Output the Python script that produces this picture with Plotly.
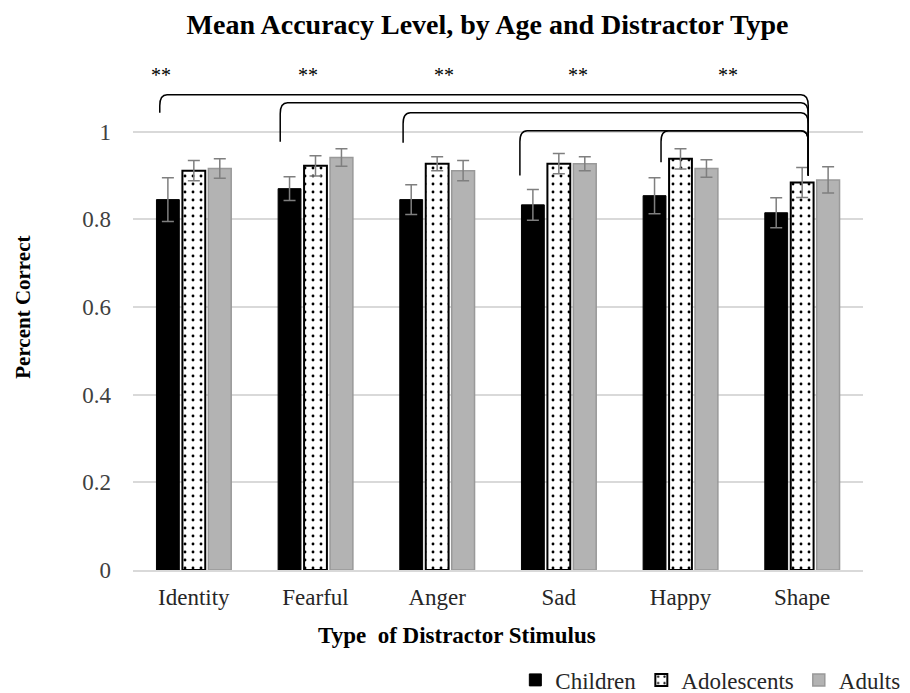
import plotly.graph_objects as go

# data
categories = ["Identity", "Fearful", "Anger", "Sad", "Happy", "Shape"]
children = [0.845, 0.870, 0.845, 0.833, 0.854, 0.815]
adolescents = [0.911, 0.922, 0.927, 0.927, 0.938, 0.884]
adults = [0.916, 0.941, 0.911, 0.927, 0.916, 0.890]
children_err = [0.050, 0.027, 0.034, 0.035, 0.041, 0.034]
adolescents_err = [0.023, 0.023, 0.016, 0.023, 0.023, 0.034]
adults_err = [0.022, 0.020, 0.023, 0.016, 0.020, 0.030]

# significance brackets: (left x in category units, top y, left end y)
brackets = [
    (-0.28, 1.084, 1.043),
    (0.71, 1.066, 0.977),
    (1.72, 1.043, 0.975),
    (2.68, 1.002, 0.900),
    (3.84, 1.002, 0.930),
]
bracket_right_x = 5.05
bracket_right_y = 0.90
star_x = [-0.27, 0.94, 2.06, 3.16, 4.39]
star_y = 1.13

SERIF = "Liberation Serif"
ERR = dict(type="data", thickness=1.5, width=6, color="#7f7f7f")

fig = go.Figure()
fig.add_trace(go.Bar(
    name="Children", x=categories, y=children,
    marker=dict(color="black", line=dict(color="black", width=1)),
    error_y=dict(array=children_err, **ERR),
))
fig.add_trace(go.Bar(
    name="Adolescents", x=categories, y=adolescents,
    marker=dict(
        color="white", line=dict(color="black", width=2),
        pattern=dict(shape=".", fgcolor="black", bgcolor="white",
                     size=8, solidity=0.1, fillmode="replace"),
    ),
    error_y=dict(array=adolescents_err, **ERR),
))
fig.add_trace(go.Bar(
    name="Adults", x=categories, y=adults,
    marker=dict(color="#b3b3b3", line=dict(color="#999999", width=1.5)),
    error_y=dict(array=adults_err, **ERR),
))

# brackets
rx, ry = 0.06, 0.025
for x0, yt, yb in brackets:
    x1 = bracket_right_x
    path = (f"M {x0},{yb} L {x0},{yt - ry} Q {x0},{yt} {x0 + rx},{yt} "
            f"L {x1 - rx},{yt} Q {x1},{yt} {x1},{yt - ry} L {x1},{bracket_right_y}")
    fig.add_shape(type="path", path=path, xref="x", yref="y",
                  line=dict(color="black", width=1.5))

for sx in star_x:
    fig.add_annotation(x=sx, y=star_y, xref="x", yref="y", text="**",
                       showarrow=False, font=dict(family=SERIF, size=20, color="black"))

fig.add_annotation(x=-0.151, y=0.5, xref="paper", yref="paper", text="<b>Percent Correct</b>",
                   textangle=-90, showarrow=False, xanchor="center", yanchor="middle",
                   font=dict(family=SERIF, size=21, color="black"))
fig.add_annotation(x=0.444, y=-0.124, xref="paper", yref="paper",
                   text="<b>Type  of Distractor Stimulus</b>", showarrow=False,
                   xanchor="center", yanchor="middle",
                   font=dict(family=SERIF, size=23, color="black"))

# page has an 8px body margin, so the figure is shifted by 8px
fig.update_layout(
    width=910, height=693,
    margin=dict(l=125, r=55, t=36, b=131, autoexpand=False),
    paper_bgcolor="white", plot_bgcolor="white",
    barmode="group", bargap=0.36, bargroupgap=0.12,
    title=dict(text="<b>Mean Accuracy Level, by Age and Distractor Type</b>",
               x=0.527, xanchor="center", y=0.977, yanchor="middle",
               font=dict(family=SERIF, size=28, color="black")),
    font=dict(family=SERIF, color="#404040"),
    legend=dict(orientation="h", x=1.058, xanchor="right", y=-0.209, yanchor="middle",
                font=dict(family=SERIF, size=23, color="#262626"),
                itemwidth=30, traceorder="normal"),
    showlegend=True,
)
fig.update_yaxes(range=[0, 1.2], tickvals=[0, 0.2, 0.4, 0.6, 0.8, 1],
                 ticktext=["0", "0.2", "0.4", "0.6", "0.8", "1"],
                 showgrid=True, gridcolor="#d9d9d9", gridwidth=1.5,
                 zeroline=False, ticks="", ticklabelstandoff=21,
                 tickfont=dict(family=SERIF, size=23, color="#404040"))
fig.update_xaxes(showline=True, linecolor="#d9d9d9", linewidth=1.5, ticks="",
                 ticklabelstandoff=6,
                 tickfont=dict(family=SERIF, size=23, color="#262626"))

fig.write_html("out.html")
